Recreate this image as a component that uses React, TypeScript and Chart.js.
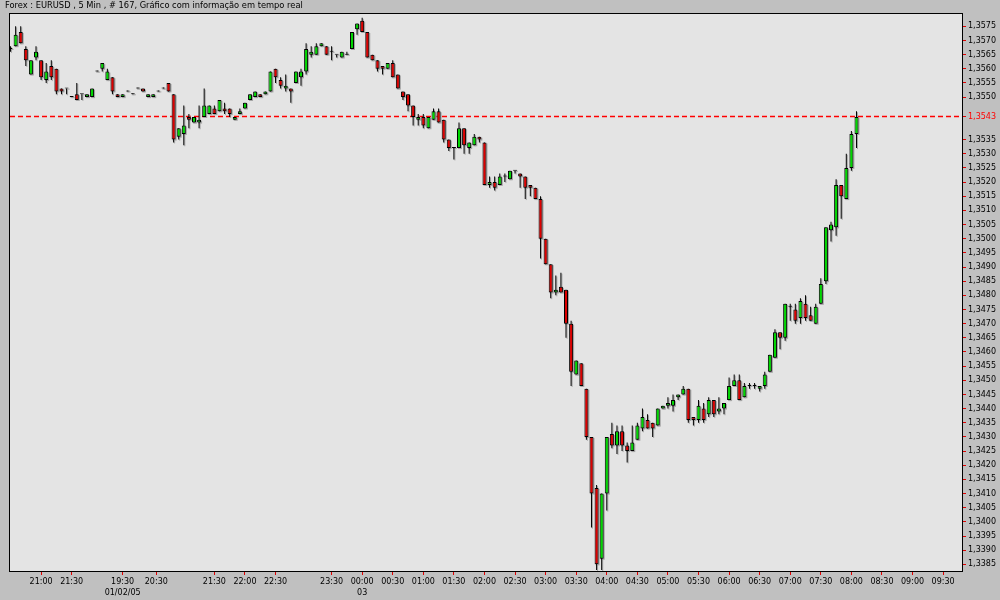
import React, { useEffect, useRef } from 'react';
import { Chart, registerables } from 'chart.js';

Chart.register(...registerables);

const chartTitle = 'Forex : EURUSD , 5 Min , # 167, Gráfico com informação em tempo real';

const opens = [
  1.3567, 1.3568, 1.3573, 1.3567, 1.3558, 1.3564, 1.3563, 1.3556, 1.3561, 1.3560,
  1.3553, 1.3553, 1.3550, 1.3551, 1.3551, 1.3550, 1.3550, 1.3559, 1.3560, 1.3556,
  1.3557, 1.3551, 1.3550, 1.3552, 1.3551, 1.3553, 1.3553, 1.3550, 1.3550, 1.3552,
  1.3553, 1.3555, 1.3551, 1.3536, 1.3537, 1.3543, 1.3541, 1.3541, 1.3543, 1.3544,
  1.3546, 1.3545, 1.3546, 1.3546, 1.3542, 1.3544, 1.3546, 1.3549, 1.3550, 1.3551,
  1.3551, 1.3552, 1.3560, 1.3556, 1.3553, 1.3553, 1.3555, 1.3557, 1.3559, 1.3565,
  1.3565, 1.3568, 1.3568, 1.3566, 1.3565, 1.3564, 1.3565, 1.3567, 1.3574, 1.3577,
  1.3573, 1.3565, 1.3563, 1.3561, 1.3560, 1.3562, 1.3558, 1.3552, 1.3551, 1.3547,
  1.3542, 1.3543, 1.3539, 1.3542, 1.3545, 1.3542, 1.3535, 1.3532, 1.3532, 1.3539,
  1.3532, 1.3533, 1.3536, 1.3534, 1.3519, 1.3520, 1.3519, 1.3522, 1.3521, 1.3524,
  1.3523, 1.3522, 1.3519, 1.3518, 1.3514, 1.3500, 1.3491, 1.3481, 1.3483, 1.3482,
  1.3470, 1.3452, 1.3456, 1.3447, 1.3430, 1.3412, 1.3387, 1.3410, 1.3431, 1.3427,
  1.3432, 1.3427, 1.3425, 1.3429, 1.3433, 1.3436, 1.3435, 1.3434, 1.3440, 1.3441,
  1.3441, 1.3444, 1.3445, 1.3447, 1.3437, 1.3436, 1.3440, 1.3438, 1.3443, 1.3439,
  1.3440, 1.3443, 1.3448, 1.3450, 1.3444, 1.3448, 1.3448, 1.3447, 1.3448, 1.3453,
  1.3458, 1.3467, 1.3465, 1.3476, 1.3475, 1.3472, 1.3477, 1.3473, 1.3470, 1.3477,
  1.3485, 1.3503, 1.3504, 1.3519, 1.3514, 1.3525, 1.3537,
];

const highs = [
  1.3568, 1.3575, 1.3575, 1.3568, 1.3563, 1.3568, 1.3563, 1.3562, 1.3563, 1.3560,
  1.3553, 1.3553, 1.3550, 1.3555, 1.3551, 1.3551, 1.3553, 1.3559, 1.3562, 1.3560,
  1.3557, 1.3551, 1.3551, 1.3552, 1.3551, 1.3553, 1.3553, 1.3551, 1.3551, 1.3552,
  1.3553, 1.3555, 1.3551, 1.3539, 1.3547, 1.3544, 1.3543, 1.3547, 1.3553, 1.3547,
  1.3547, 1.3549, 1.3548, 1.3546, 1.3543, 1.3546, 1.3548, 1.3551, 1.3552, 1.3551,
  1.3552, 1.3559, 1.3560, 1.3557, 1.3558, 1.3553, 1.3559, 1.3560, 1.3569, 1.3568,
  1.3569, 1.3569, 1.3568, 1.3568, 1.3565, 1.3566, 1.3566, 1.3573, 1.3576, 1.3578,
  1.3573, 1.3565, 1.3563, 1.3561, 1.3562, 1.3563, 1.3558, 1.3552, 1.3551, 1.3547,
  1.3544, 1.3544, 1.3543, 1.3546, 1.3546, 1.3542, 1.3535, 1.3532, 1.3541, 1.3539,
  1.3534, 1.3537, 1.3536, 1.3534, 1.3522, 1.3522, 1.3523, 1.3523, 1.3524, 1.3524,
  1.3523, 1.3522, 1.3519, 1.3518, 1.3515, 1.3500, 1.3491, 1.3487, 1.3488, 1.3482,
  1.3471, 1.3457, 1.3456, 1.3447, 1.3430, 1.3413, 1.3410, 1.3430, 1.3435, 1.3434,
  1.3434, 1.3428, 1.3434, 1.3435, 1.3440, 1.3438, 1.3435, 1.3440, 1.3441, 1.3444,
  1.3445, 1.3445, 1.3448, 1.3447, 1.3437, 1.3443, 1.3442, 1.3444, 1.3443, 1.3444,
  1.3442, 1.3451, 1.3452, 1.3452, 1.3449, 1.3449, 1.3449, 1.3448, 1.3453, 1.3459,
  1.3468, 1.3467, 1.3477, 1.3477, 1.3477, 1.3479, 1.3480, 1.3476, 1.3477, 1.3486,
  1.3504, 1.3506, 1.3521, 1.3519, 1.3530, 1.3538, 1.3545,
];

const lows = [
  1.3566, 1.3568, 1.3569, 1.3561, 1.3558, 1.3563, 1.3556, 1.3555, 1.3556, 1.3551,
  1.3551, 1.3551, 1.3550, 1.3549, 1.3549, 1.3550, 1.3550, 1.3559, 1.3559, 1.3556,
  1.3551, 1.3550, 1.3550, 1.3552, 1.3551, 1.3553, 1.3552, 1.3550, 1.3550, 1.3552,
  1.3553, 1.3552, 1.3534, 1.3535, 1.3533, 1.3539, 1.3541, 1.3539, 1.3543, 1.3544,
  1.3544, 1.3545, 1.3544, 1.3543, 1.3542, 1.3544, 1.3546, 1.3549, 1.3550, 1.3550,
  1.3551, 1.3552, 1.3555, 1.3553, 1.3552, 1.3548, 1.3555, 1.3554, 1.3558, 1.3564,
  1.3565, 1.3568, 1.3565, 1.3563, 1.3564, 1.3564, 1.3565, 1.3567, 1.3572, 1.3573,
  1.3564, 1.3563, 1.3559, 1.3558, 1.3560, 1.3557, 1.3553, 1.3549, 1.3545, 1.3540,
  1.3540, 1.3539, 1.3539, 1.3542, 1.3541, 1.3534, 1.3531, 1.3528, 1.3532, 1.3530,
  1.3530, 1.3533, 1.3534, 1.3519, 1.3518, 1.3517, 1.3519, 1.3520, 1.3521, 1.3523,
  1.3518, 1.3514, 1.3515, 1.3514, 1.3493, 1.3491, 1.3479, 1.3480, 1.3481, 1.3465,
  1.3448, 1.3452, 1.3448, 1.3429, 1.3398, 1.3383, 1.3383, 1.3404, 1.3426, 1.3424,
  1.3425, 1.3421, 1.3425, 1.3429, 1.3432, 1.3433, 1.3430, 1.3434, 1.3440, 1.3440,
  1.3439, 1.3443, 1.3445, 1.3435, 1.3434, 1.3435, 1.3435, 1.3437, 1.3437, 1.3438,
  1.3438, 1.3443, 1.3448, 1.3443, 1.3444, 1.3447, 1.3447, 1.3446, 1.3447, 1.3453,
  1.3458, 1.3461, 1.3464, 1.3471, 1.3470, 1.3470, 1.3471, 1.3471, 1.3470, 1.3477,
  1.3484, 1.3499, 1.3501, 1.3507, 1.3514, 1.3524, 1.3532,
];

const closes = [
  1.3567, 1.3572, 1.3569, 1.3563, 1.3563, 1.3566, 1.3557, 1.3559, 1.3557, 1.3552,
  1.3552, 1.3553, 1.3550, 1.3549, 1.3551, 1.3551, 1.3553, 1.3559, 1.3562, 1.3559,
  1.3552, 1.3550, 1.3551, 1.3552, 1.3551, 1.3553, 1.3552, 1.3551, 1.3551, 1.3552,
  1.3553, 1.3552, 1.3535, 1.3539, 1.3540, 1.3542, 1.3543, 1.3542, 1.3547, 1.3547,
  1.3544, 1.3549, 1.3545, 1.3544, 1.3543, 1.3545, 1.3548, 1.3551, 1.3552, 1.3550,
  1.3552, 1.3559, 1.3557, 1.3554, 1.3554, 1.3552, 1.3559, 1.3559, 1.3567, 1.3566,
  1.3568, 1.3569, 1.3565, 1.3566, 1.3565, 1.3566, 1.3565, 1.3573, 1.3576, 1.3573,
  1.3564, 1.3563, 1.3560, 1.3560, 1.3562, 1.3557, 1.3553, 1.3550, 1.3547, 1.3543,
  1.3543, 1.3540, 1.3543, 1.3545, 1.3541, 1.3535, 1.3532, 1.3532, 1.3539, 1.3533,
  1.3534, 1.3536, 1.3535, 1.3519, 1.3520, 1.3518, 1.3522, 1.3522, 1.3524, 1.3524,
  1.3522, 1.3518, 1.3518, 1.3514, 1.3500, 1.3491, 1.3481, 1.3482, 1.3481, 1.3470,
  1.3453, 1.3457, 1.3448, 1.3430, 1.3410, 1.3385, 1.3410, 1.3430, 1.3427, 1.3432,
  1.3427, 1.3425, 1.3428, 1.3434, 1.3437, 1.3433, 1.3433, 1.3440, 1.3441, 1.3442,
  1.3443, 1.3445, 1.3447, 1.3436, 1.3436, 1.3441, 1.3436, 1.3443, 1.3438, 1.3440,
  1.3442, 1.3448, 1.3450, 1.3443, 1.3448, 1.3448, 1.3448, 1.3448, 1.3452, 1.3459,
  1.3467, 1.3465, 1.3477, 1.3476, 1.3471, 1.3478, 1.3472, 1.3471, 1.3476, 1.3484,
  1.3504, 1.3505, 1.3519, 1.3515, 1.3525, 1.3537, 1.3543,
];

// x tick positions are bar slots (5-minute bars), labels as printed under the axis
const xTickSlots = [6, 12, 22, 28.6, 40, 46, 52, 63, 69, 75, 81, 87, 93, 99, 105, 111, 117, 123, 129, 135, 141, 147, 153, 159, 165, 171, 177, 183];
const xTickLabels: (string | string[])[] = [
  '21:00', '21:30', ['19:30', '01/02/05'], '20:30', '21:30', '22:00', '22:30', '23:30', ['00:00', '03'],
  '00:30', '01:00', '01:30', '02:00', '02:30', '03:00', '03:30', '04:00', '04:30', '05:00', '05:30',
  '06:00', '06:30', '07:00', '07:30', '08:00', '08:30', '09:00', '09:30',
];

const yTickValues = [
  1.3575, 1.3570, 1.3565, 1.3560, 1.3555, 1.3550, 1.3535, 1.3530, 1.3525, 1.3520,
  1.3515, 1.3510, 1.3505, 1.3500, 1.3495, 1.3490, 1.3485, 1.3480, 1.3475, 1.3470,
  1.3465, 1.3460, 1.3455, 1.3450, 1.3445, 1.3440, 1.3435, 1.3430, 1.3425, 1.3420,
  1.3415, 1.3410, 1.3405, 1.3400, 1.3395, 1.3390, 1.3385,
];

const FONT = 'DejaVu Sans';
const GREEN = '#00d800';
const RED = '#dc0000';

export default function App() {
  const canvasRef = useRef<HTMLCanvasElement | null>(null);

  useEffect(() => {
    document.body.style.margin = '0';
    document.body.style.background = '#c0c0c0';
    const canvas = canvasRef.current;
    if (!canvas) return;
    const lastClose = closes[closes.length - 1];

    const decor = {
      id: 'fxDecor',
      beforeDraw(chart: any) {
        const { ctx, chartArea: a, width, height } = chart;
        ctx.save();
        ctx.fillStyle = '#c0c0c0';
        ctx.fillRect(0, 0, width, height);
        ctx.fillStyle = '#e4e4e4';
        ctx.fillRect(a.left, a.top, a.right - a.left, a.bottom - a.top);
        ctx.restore();
      },
      beforeDatasetsDraw(chart: any) {
        const { ctx, chartArea: a } = chart;
        ctx.save();
        ctx.beginPath();
        ctx.rect(a.left, a.top, a.right - a.left, a.bottom - a.top);
        ctx.clip();
        // current price line (dashed red)
        const py = Math.round(chart.scales.y.getPixelForValue(lastClose)) - 0.5;
        ctx.globalAlpha = 1;
        ctx.strokeStyle = 'rgb(255,0,0)';
        ctx.lineWidth = 1.4;
        ctx.setLineDash([5, 3]);
        ctx.beginPath();
        ctx.moveTo(a.left + 1, py);
        ctx.lineTo(a.right, py);
        ctx.stroke();
        ctx.setLineDash([]);
        // drop shadows of candles
        ctx.fillStyle = '#a4a4a4';
        for (const di of [1, 0]) {
          const meta = chart.getDatasetMeta(di);
          for (const el of meta.data) {
            const p = el.getProps(['x', 'y', 'base', 'width'], true);
            const top = Math.min(p.y, p.base);
            const h = Math.max(Math.abs(p.base - p.y), 1);
            ctx.fillRect(p.x - p.width / 2 + 1, top + 1, p.width, h);
          }
        }
        ctx.restore();
      },
      afterDraw(chart: any) {
        const { ctx, chartArea: a } = chart;
        ctx.save();
        ctx.strokeStyle = '#000000';
        ctx.lineWidth = 1;
        ctx.strokeRect(a.left + 0.5, a.top + 0.5, a.right - a.left - 1, a.bottom - a.top - 1);
        ctx.fillStyle = '#000000';
        ctx.font = `8.3px "${FONT}"`;
        ctx.textBaseline = 'middle';
        ctx.textAlign = 'left';
        ctx.fillText(chartTitle, 5, 6);
        ctx.restore();
      },
    };

    const chart = new Chart(canvas, {
      type: 'bar',
      data: {
        datasets: [
          {
            label: 'body',
            data: opens.map((o, i) => ({ x: i, y: [o, closes[i]] })) as any,
            backgroundColor: opens.map((o, i) => (closes[i] > o ? GREEN : closes[i] < o ? RED : '#000000')),
            borderColor: '#000000',
            borderWidth: 1,
            borderSkipped: false,
            grouped: false,
            maxBarThickness: 4,
            categoryPercentage: 1,
            barPercentage: 1,
            minBarLength: 1,
            inflateAmount: 0,
            order: 0,
          } as any,
          {
            label: 'wick',
            data: highs.map((h, i) => ({ x: i, y: [lows[i], h] })) as any,
            backgroundColor: '#000000',
            borderWidth: 0,
            grouped: false,
            maxBarThickness: 1,
            categoryPercentage: 1,
            barPercentage: 1,
            minBarLength: 1,
            inflateAmount: 0,
            order: 1,
          } as any,
        ],
      },
      options: {
        animation: false,
        responsive: false,
        devicePixelRatio: 1,
        layout: { padding: { left: 9, top: 13, right: 0, bottom: 0 } },
        plugins: {
          legend: { display: false },
          tooltip: { enabled: false },
          title: { display: false },
        },
        scales: {
          x: {
            type: 'linear',
            min: -0.3,
            max: 186.9,
            offset: false,
            grid: { drawOnChartArea: false, drawTicks: true, tickLength: 3, tickColor: '#e00000', offset: false },
            border: { display: false },
            afterBuildTicks: (axis: any) => {
              axis.ticks = xTickSlots.map((v) => ({ value: v }));
            },
            afterFit: (axis: any) => {
              axis.height = 28;
            },
            ticks: {
              autoSkip: false,
              maxRotation: 0,
              minRotation: 0,
              padding: 2,
              color: '#000000',
              font: { family: FONT, size: 8, lineHeight: 1.35 },
              callback: (v: any) => {
                const k = xTickSlots.indexOf(Number(v));
                return k >= 0 ? xTickLabels[k] : '';
              },
            },
          },
          y: {
            position: 'right',
            min: 1.33823,
            max: 1.35797,
            grid: { drawOnChartArea: false, drawTicks: true, tickLength: 3, tickColor: '#e00000' },
            border: { display: false },
            afterBuildTicks: (axis: any) => {
              axis.ticks = [...yTickValues, lastClose].map((v) => ({ value: v }));
            },
            afterFit: (axis: any) => {
              axis.width = 37;
            },
            ticks: {
              autoSkip: false,
              padding: 2,
              color: (c: any) => (c.tick && c.tick.value === lastClose ? '#ff0000' : '#000000'),
              font: { family: FONT, size: 8 },
              callback: (v: any) => Number(v).toFixed(4).replace('.', ','),
            },
          },
        },
      } as any,
      plugins: [decor],
    });

    return () => chart.destroy();
  }, []);

  return (
    <div style={{ width: 1000, height: 600 }}>
      <canvas ref={canvasRef} width={1000} height={600} style={{ display: 'block', width: 1000, height: 600 }} />
    </div>
  );
}
